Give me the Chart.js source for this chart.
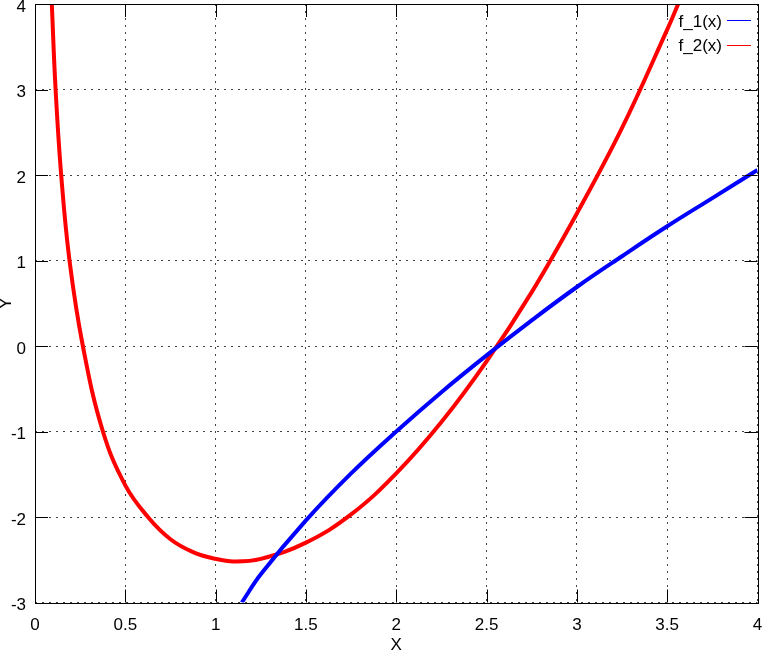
<!DOCTYPE html>
<html>
<head>
<meta charset="utf-8">
<script src="https://cdn.jsdelivr.net/npm/chart.js@4.4.1/dist/chart.umd.min.js"></script>
<style>
    html, body { margin: 0; padding: 0; background: #fff; }
    canvas { display: block; }
</style>
</head>
<body>
<canvas id="chart" width="762" height="653"></canvas>
<script>
const xTicks = [0, 0.5, 1, 1.5, 2, 2.5, 3, 3.5, 4];
const yTicks = [-3, -2, -1, 0, 1, 2, 3, 4];
const seriesLabels = ['f_1(x)', 'f_2(x)'];
const seriesColors = ['#0000ff', '#ff0000'];

// values
const f1X = [1.145, 1.25, 1.5, 1.75, 2, 2.25, 2.5, 2.75, 3, 3.25, 3.5, 3.75, 4];
const f1Y = [-3, -2.67, -2.04, -1.49, -1.00, -0.54, -0.11, 0.30, 0.69, 1.05, 1.40, 1.73, 2.06];
const f2X = [0.093, 0.114, 0.145, 0.191, 0.265, 0.376, 0.5, 0.625, 0.75, 0.875, 1.0, 1.1, 1.25, 1.5, 1.75, 2.0, 2.25, 2.5, 2.75, 3.0, 3.25, 3.5, 3.561];
const f2Y = [4, 3, 2, 1, 0, -1, -1.63, -2.00, -2.26, -2.41, -2.49, -2.52, -2.49, -2.30, -1.97, -1.49, -0.89, -0.18, 0.63, 1.55, 2.55, 3.70, 4.0];

const font = { family: '"Liberation Sans", Arial, sans-serif', size: 17 };
const toPoints = (xs, ys) => xs.map((x, i) => ({ x, y: ys[i] }));

const frameAndKey = {
    id: 'frameAndKey',
    afterDraw(chart) {
        const { ctx, chartArea: a, scales } = chart;
        const tick = 13;
        ctx.save();
        ctx.strokeStyle = '#000';
        ctx.lineWidth = 1;
        ctx.beginPath();
        xTicks.forEach((v) => {
            const px = Math.round(scales.x.getPixelForValue(v)) + 0.5;
            ctx.moveTo(px, a.bottom); ctx.lineTo(px, a.bottom - tick);
            ctx.moveTo(px, a.top); ctx.lineTo(px, a.top + tick);
        });
        yTicks.forEach((v) => {
            const py = Math.round(scales.y.getPixelForValue(v)) + 0.5;
            ctx.moveTo(a.left, py); ctx.lineTo(a.left + tick, py);
            ctx.moveTo(a.right, py); ctx.lineTo(a.right - tick, py);
        });
        ctx.stroke();
        ctx.strokeRect(Math.round(a.left) + 0.5, Math.round(a.top) + 0.5,
            Math.round(a.right - a.left), Math.round(a.bottom - a.top));

        // key, top right inside the frame
        ctx.font = `${font.size}px ${font.family}`;
        ctx.textAlign = 'right';
        ctx.textBaseline = 'middle';
        ctx.fillStyle = '#000';
        seriesLabels.forEach((label, i) => {
            const y = 22 + i * 24.5;
            ctx.fillText(label, 722, y);
            ctx.strokeStyle = seriesColors[i];
            ctx.beginPath();
            ctx.moveTo(727, Math.round(y - 2) + 0.5);
            ctx.lineTo(751, Math.round(y - 2) + 0.5);
            ctx.stroke();
        });
        ctx.restore();
    }
};

new Chart(document.getElementById('chart'), {
    type: 'scatter',
    data: {
        datasets: [
            {
                label: seriesLabels[0],
                data: toPoints(f1X, f1Y),
                borderColor: seriesColors[0],
                borderWidth: 4,
                showLine: true,
                pointRadius: 0,
                tension: 0.4
            },
            {
                label: seriesLabels[1],
                data: toPoints(f2X, f2Y),
                borderColor: seriesColors[1],
                borderWidth: 4,
                showLine: true,
                pointRadius: 0,
                tension: 0.4
            }
        ]
    },
    options: {
        responsive: false,
        animation: false,
        devicePixelRatio: 1,
        layout: { padding: { left: 0, top: 4, right: 4.5, bottom: 0 } },
        plugins: { legend: { display: false }, tooltip: { enabled: false } },
        scales: {
            x: {
                type: 'linear',
                min: 0,
                max: 4,
                afterBuildTicks: (s) => { s.ticks = xTicks.map((v) => ({ value: v })); },
                afterFit: (s) => { s.height = 50.5; s.paddingLeft = 0; s.paddingRight = 0; },
                ticks: { font, color: '#000', padding: 13, maxRotation: 0, autoSkip: false, callback: (v) => String(v) },
                grid: { color: '#444', lineWidth: 1, drawTicks: false },
                border: { display: false, dash: [2, 5] },
                title: { display: true, text: 'X', color: '#000', font: { ...font, lineHeight: 1 }, padding: { top: 0, bottom: -1 } }
            },
            y: {
                type: 'linear',
                min: -3,
                max: 4,
                afterBuildTicks: (s) => { s.ticks = yTicks.map((v) => ({ value: v })); },
                afterFit: (s) => { s.width = 35; s.paddingTop = 0; s.paddingBottom = 0; },
                ticks: { font, color: '#000', padding: 9, labelOffset: 3, autoSkip: false, callback: (v) => String(v) },
                grid: { color: '#444', lineWidth: 1, drawTicks: false },
                border: { display: false, dash: [2, 5] },
                title: { display: true, text: 'Y', color: '#000', font: { ...font, lineHeight: 1 }, padding: { top: -2.5, bottom: 0 } }
            }
        }
    },
    plugins: [frameAndKey]
});
</script>
</body>
</html>
